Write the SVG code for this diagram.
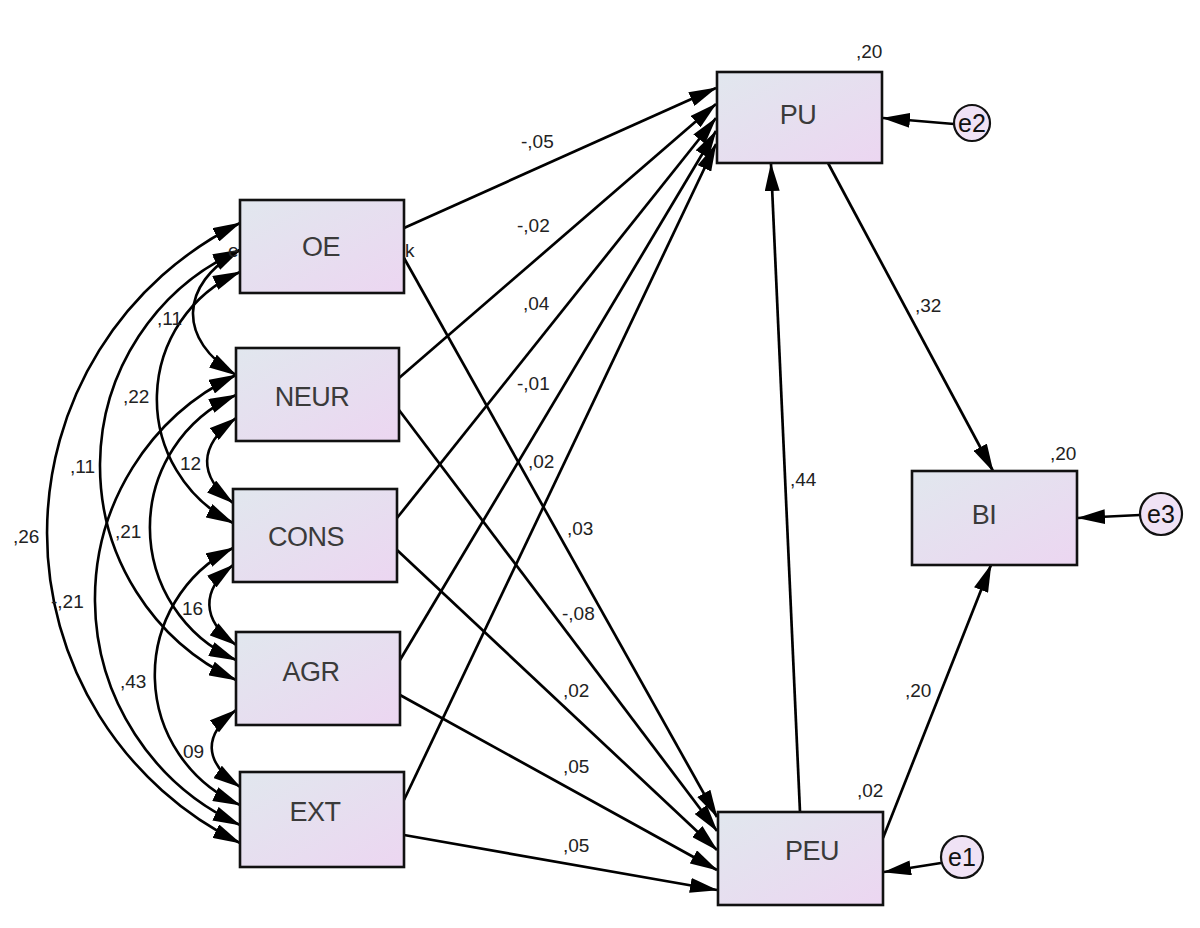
<svg xmlns="http://www.w3.org/2000/svg" width="1200" height="928" viewBox="0 0 1200 928">
<defs>
<style>
.box{fill:url(#bx);stroke:#111;stroke-width:2.6}
.err{fill:#f0e2f5;stroke:#111;stroke-width:2.2}
.nt{font-family:"Liberation Sans",Arial,sans-serif;font-size:27px;fill:#3a3a3a;text-anchor:middle;letter-spacing:-0.5px}
.et{font-family:"Liberation Sans",Arial,sans-serif;font-size:25px;fill:#111;text-anchor:middle}
.lb{font-family:"Liberation Sans",Arial,sans-serif;font-size:19px;fill:#222}
.c{fill:none;stroke:#000;stroke-width:2.7;marker-end:url(#ah)}
.cv{fill:none;stroke:#000;stroke-width:2.6;marker-start:url(#ah);marker-end:url(#ah)}
</style>
<linearGradient id="bx" x1="0" y1="0" x2="1" y2="1">
<stop offset="0" stop-color="#e1e7ee"/>
<stop offset="1" stop-color="#ecd6f1"/>
</linearGradient>
<marker id="ah" viewBox="0 0 28 15" refX="27" refY="7.5" markerWidth="28" markerHeight="15" markerUnits="userSpaceOnUse" orient="auto-start-reverse">
<path d="M0,0 L28,7.5 L0,15 z" fill="#000"/>
</marker>
</defs>
<rect width="1200" height="928" fill="#fff"/>

<g id="connectors">
<path class="cv" d="M240,223 A345.5,345.5 0 0 0 240,843"/>
<path class="cv" d="M240,250 A236.5,236.5 0 0 0 236,680"/>
<path class="cv" d="M240,272 A138.8,138.8 0 0 0 233,523"/>
<path class="cv" d="M240,250 C178,285 178,340 236,375"/>
<path class="cv" d="M236,375 A248.5,248.5 0 0 0 240,825"/>
<path class="cv" d="M236,395 A145,145 0 0 0 236,660"/>
<path class="cv" d="M236,418 C198,446 198,476 233,503"/>
<path class="cv" d="M233,548 A142,142 0 0 0 240,805"/>
<path class="cv" d="M233,565 C201,590 201,620 236,645"/>
<path class="cv" d="M236,710 C203,735 203,762 240,787"/>
<path class="c" d="M404,228 L716,88"/>
<path class="c" d="M399,378 L716,104"/>
<path class="c" d="M397,518 L716,118"/>
<path class="c" d="M400,660 L716,131"/>
<path class="c" d="M404,800 L716,144"/>
<path class="c" d="M404,258 L717,817"/>
<path class="c" d="M399,410 L717,831"/>
<path class="c" d="M397,550 L717,850"/>
<path class="c" d="M400,695 L717,870"/>
<path class="c" d="M404,835 L717,890"/>
<path class="c" d="M800,812 L771,164"/>
<path class="c" d="M828,163 L993,471"/>
<path class="c" d="M883,838 L991,565"/>
<path class="c" d="M954,124 L883,118"/>
<path class="c" d="M941,863 L884,872"/>
<path class="c" d="M1140,515 L1078,518"/>
</g>

<g id="labels">
<text class="lb" x="157" y="325">,11</text>
<text class="lb" x="123" y="403">,22</text>
<text class="lb" x="70" y="473">,11</text>
<text class="lb" x="13" y="543">,26</text>
<text class="lb" x="180" y="470">12</text>
<text class="lb" x="115" y="538">,21</text>
<text class="lb" x="51" y="608">-,21</text>
<text class="lb" x="182" y="615">16</text>
<text class="lb" x="120" y="688">,43</text>
<text class="lb" x="183" y="758">09</text>
<text class="lb" x="521" y="148">-,05</text>
<text class="lb" x="517" y="232">-,02</text>
<text class="lb" x="523" y="310">,04</text>
<text class="lb" x="517" y="390">-,01</text>
<text class="lb" x="528" y="468">,02</text>
<text class="lb" x="567" y="535">,03</text>
<text class="lb" x="562" y="620">-,08</text>
<text class="lb" x="563" y="697">,02</text>
<text class="lb" x="563" y="773">,05</text>
<text class="lb" x="563" y="852">,05</text>
<text class="lb" x="790" y="486">,44</text>
<text class="lb" x="915" y="312">,32</text>
<text class="lb" x="905" y="697">,20</text>
<text class="lb" x="856" y="58">,20</text>
<text class="lb" x="857" y="797">,02</text>
<text class="lb" x="1050" y="460">,20</text>
</g>

<g id="OE">
<rect class="box" x="240" y="200" width="164" height="93"/>
<text class="nt" x="321" y="256">OE</text>
<text class="lb" x="228" y="257">e</text>
<text class="lb" x="405" y="257">k</text>
</g>
<g id="NEUR">
<rect class="box" x="236" y="348" width="163" height="93"/>
<text class="nt" x="312" y="406">NEUR</text>
</g>
<g id="CONS">
<rect class="box" x="233" y="489" width="164" height="93"/>
<text class="nt" x="306" y="546">CONS</text>
</g>
<g id="AGR">
<rect class="box" x="236" y="632" width="164" height="93"/>
<text class="nt" x="311" y="681">AGR</text>
</g>
<g id="EXT">
<rect class="box" x="240" y="772" width="164" height="95"/>
<text class="nt" x="315" y="821">EXT</text>
</g>
<g id="PU">
<rect class="box" x="717" y="72" width="165" height="91"/>
<text class="nt" x="798" y="124">PU</text>
</g>
<g id="PEU">
<rect class="box" x="718" y="812" width="165" height="93"/>
<text class="nt" x="812" y="860">PEU</text>
</g>
<g id="BI">
<rect class="box" x="912" y="471" width="165" height="94"/>
<text class="nt" x="984" y="524">BI</text>
</g>
<g id="e2">
<circle class="err" cx="972" cy="123" r="18"/>
<text class="et" x="972" y="132">e2</text>
</g>
<g id="e1">
<circle class="err" cx="962" cy="857" r="21"/>
<text class="et" x="962" y="866">e1</text>
</g>
<g id="e3">
<circle class="err" cx="1161" cy="514" r="21"/>
<text class="et" x="1161" y="523">e3</text>
</g>
</svg>
